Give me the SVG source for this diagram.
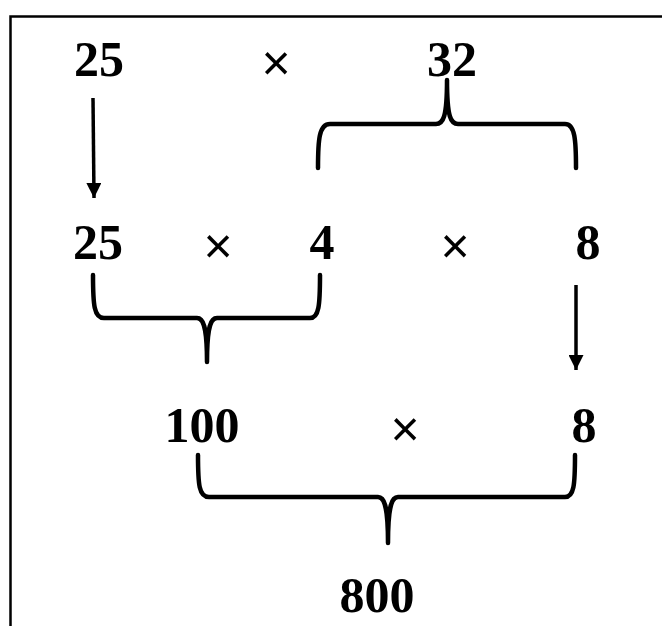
<svg xmlns="http://www.w3.org/2000/svg" width="662" height="626" viewBox="0 0 662 626">
<defs>
<style>
.num{font-family:"Liberation Serif","Times New Roman",serif;font-weight:bold;font-size:50px;fill:#000;text-anchor:middle}
.op{font-family:"Liberation Sans",Arial,sans-serif;font-size:50px;fill:#000;text-anchor:middle}
.br{fill:none;stroke:#000;stroke-width:4.5;stroke-linecap:round;stroke-linejoin:round}
.ar{fill:none;stroke:#000;stroke-width:3.5}
</style>
<marker id="ah" viewBox="0 0 10 10" refX="10" refY="5" markerWidth="15" markerHeight="15" markerUnits="userSpaceOnUse" orient="auto">
<path d="M0,0 L10,5 L0,10 Z" fill="#000"/>
</marker>
</defs>
<rect x="0" y="0" width="662" height="626" fill="#fff"/>
<rect x="10.5" y="16.5" width="700" height="700" fill="none" stroke="#000" stroke-width="2.5"/>
<g id="row1">
<g id="n-25a"><text class="num" x="99" y="76">25</text></g>
<g id="op1"><text class="op" x="276" y="80">×</text></g>
<g id="n-32"><text class="num" x="452" y="76">32</text></g>
</g>
<g id="row2">
<g id="n-25b"><text class="num" x="98" y="259">25</text></g>
<g id="op2"><text class="op" x="218" y="263">×</text></g>
<g id="n-4"><text class="num" x="322" y="259">4</text></g>
<g id="op3"><text class="op" x="455" y="263">×</text></g>
<g id="n-8a"><text class="num" x="588" y="259">8</text></g>
</g>
<g id="row3">
<g id="n-100"><text class="num" x="202" y="442">100</text></g>
<g id="op4"><text class="op" x="405" y="446">×</text></g>
<g id="n-8b"><text class="num" x="584" y="442">8</text></g>
</g>
<g id="n-800"><text class="num" x="377" y="612">800</text></g>
<g id="connectors">
<path class="ar" d="M93,98 L94,198" marker-end="url(#ah)"/>
<path class="ar" d="M576,285 L576,370" marker-end="url(#ah)"/>
<path class="br" d="M318,168 C318,140 319,124 330,124 L436,124 C443,124 447,118 447,80 C447,118 451,124 458,124 L565,124 C575,124 576,140 576,168"/>
<path class="br" d="M93,275 C93,305 94,318 104,318 L197,318 C203,318 207,325 207,362 C207,325 211,318 217,318 L310,318 C319,318 320,305 320,275"/>
<path class="br" d="M198,455 C198,485 199,497 209,497 L378,497 C384,497 388,504 388,543 C388,504 392,497 398,497 L565,497 C574,497 575,485 575,455"/>
</g>
</svg>
